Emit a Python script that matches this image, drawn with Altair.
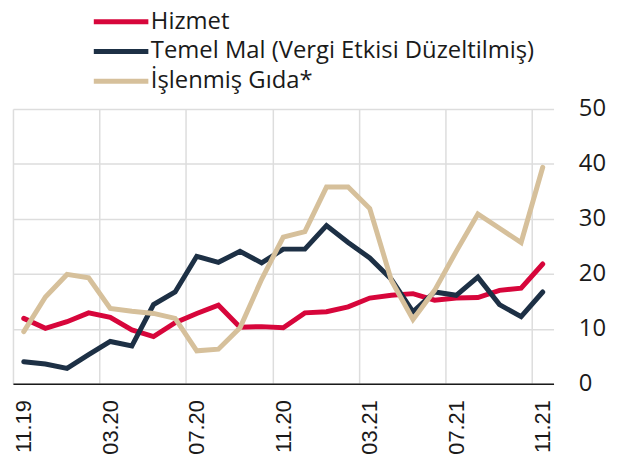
import altair as alt
import pandas as pd

months = ["11.19", "12.19", "01.20", "02.20", "03.20", "04.20", "05.20", "06.20",
          "07.20", "08.20", "09.20", "10.20", "11.20", "12.20", "01.21", "02.21",
          "03.21", "04.21", "05.21", "06.21", "07.21", "08.21", "09.21", "10.21", "11.21"]

hizmet = [11.9, 10.1, 11.3, 12.9, 12.1, 9.8, 8.6, 11.1, 12.8, 14.3, 10.3, 10.4, 10.2,
          12.9, 13.1, 14.0, 15.6, 16.1, 16.4, 15.2, 15.6, 15.7, 17.0, 17.4, 21.8]
temel = [4.0, 3.6, 2.8, 5.3, 7.7, 6.9, 14.4, 16.7, 23.2, 22.1, 24.1, 22.0, 24.5,
         24.5, 28.8, 25.7, 22.9, 19.0, 13.1, 16.7, 16.1, 19.4, 14.4, 12.2, 16.7]
gida = [9.5, 15.8, 19.9, 19.3, 13.7, 13.2, 12.8, 11.9, 6.0, 6.3, 10.2, 19.0, 26.7,
        27.7, 35.8, 35.8, 31.9, 18.8, 11.7, 17.0, 24.1, 30.9, 28.3, 25.7, 39.4]

series = ["Hizmet", "Temel Mal (Vergi Etkisi Düzeltilmiş)", "İşlenmiş Gıda*"]
colors = ["#d7063b", "#1d3045", "#d6c09b"]

label_idx = [0, 4, 8, 12, 16, 20, 24]
grid_pos = [-0.5, 3.5, 7.5, 11.5, 15.5, 19.5, 23.5]

rows = []
for name, vals in zip(series, [hizmet, temel, gida]):
    for i, v in enumerate(vals):
        rows.append({"i": i, "month": months[i], "series": name, "value": v})
df = pd.DataFrame(rows)

month_arr = "[" + ",".join("'" + m + "'" for m in months) + "]"

xscale = alt.Scale(domain=[-0.5, 24.5], nice=False, zero=False)

lines = alt.Chart(df).mark_line(strokeWidth=5, strokeCap="round").encode(
    x=alt.X("i:Q", scale=xscale,
            axis=alt.Axis(values=label_idx, labelExpr=month_arr + "[datum.value]",
                          grid=False, ticks=False, domain=True, domainColor="#1a1a1a",
                          domainWidth=1.5, labelAngle=-90, labelAlign="right",
                          labelBaseline="middle", labelPadding=16, labelFontSize=22,
                          labelFont="Liberation Sans", labelColor="#1a1a1a",
                          title=None, orient="bottom")),
    y=alt.Y("value:Q", scale=alt.Scale(domain=[0, 50], nice=False),
            axis=alt.Axis(orient="right", values=[0, 10, 20, 30, 40, 50], grid=True,
                          gridColor="#dddddd", gridWidth=1.5, domain=False, ticks=False,
                          labelPadding=25, labelFontSize=24, labelFont="Open Sans",
                          labelColor="#1a1a1a", title=None)),
    color=alt.Color("series:N", sort=series,
                    scale=alt.Scale(domain=series, range=colors),
                    legend=alt.Legend(title=None, orient="none", legendX=79, legendY=-103,
                                      symbolType="stroke", symbolSize=3025,
                                      symbolStrokeWidth=5, labelFontSize=24,
                                      labelFont="Open Sans", labelColor="#1a1a1a",
                                      clipHeight=30, rowPadding=0, labelOffset=0,
                                      labelLimit=0)),
    detail="series:N",
)

grid = alt.Chart(pd.DataFrame({"g": grid_pos})).mark_rule(opacity=0).encode(
    x=alt.X("g:Q", scale=xscale,
            axis=alt.Axis(values=grid_pos, grid=True, gridColor="#dddddd", gridWidth=1.5,
                          labels=False, ticks=False, domain=False, title=None,
                          orient="bottom")),
)

chart = alt.layer(grid, lines).resolve_axis(x="independent").properties(
    width=545, height=277,
    autosize=alt.AutoSizeParams(type="none"),
    padding={"left": 5, "top": 100, "right": 68, "bottom": 73},
).configure_view(stroke=None)

chart.save("out.html", embed_options={"renderer": "svg", "actions": False})
